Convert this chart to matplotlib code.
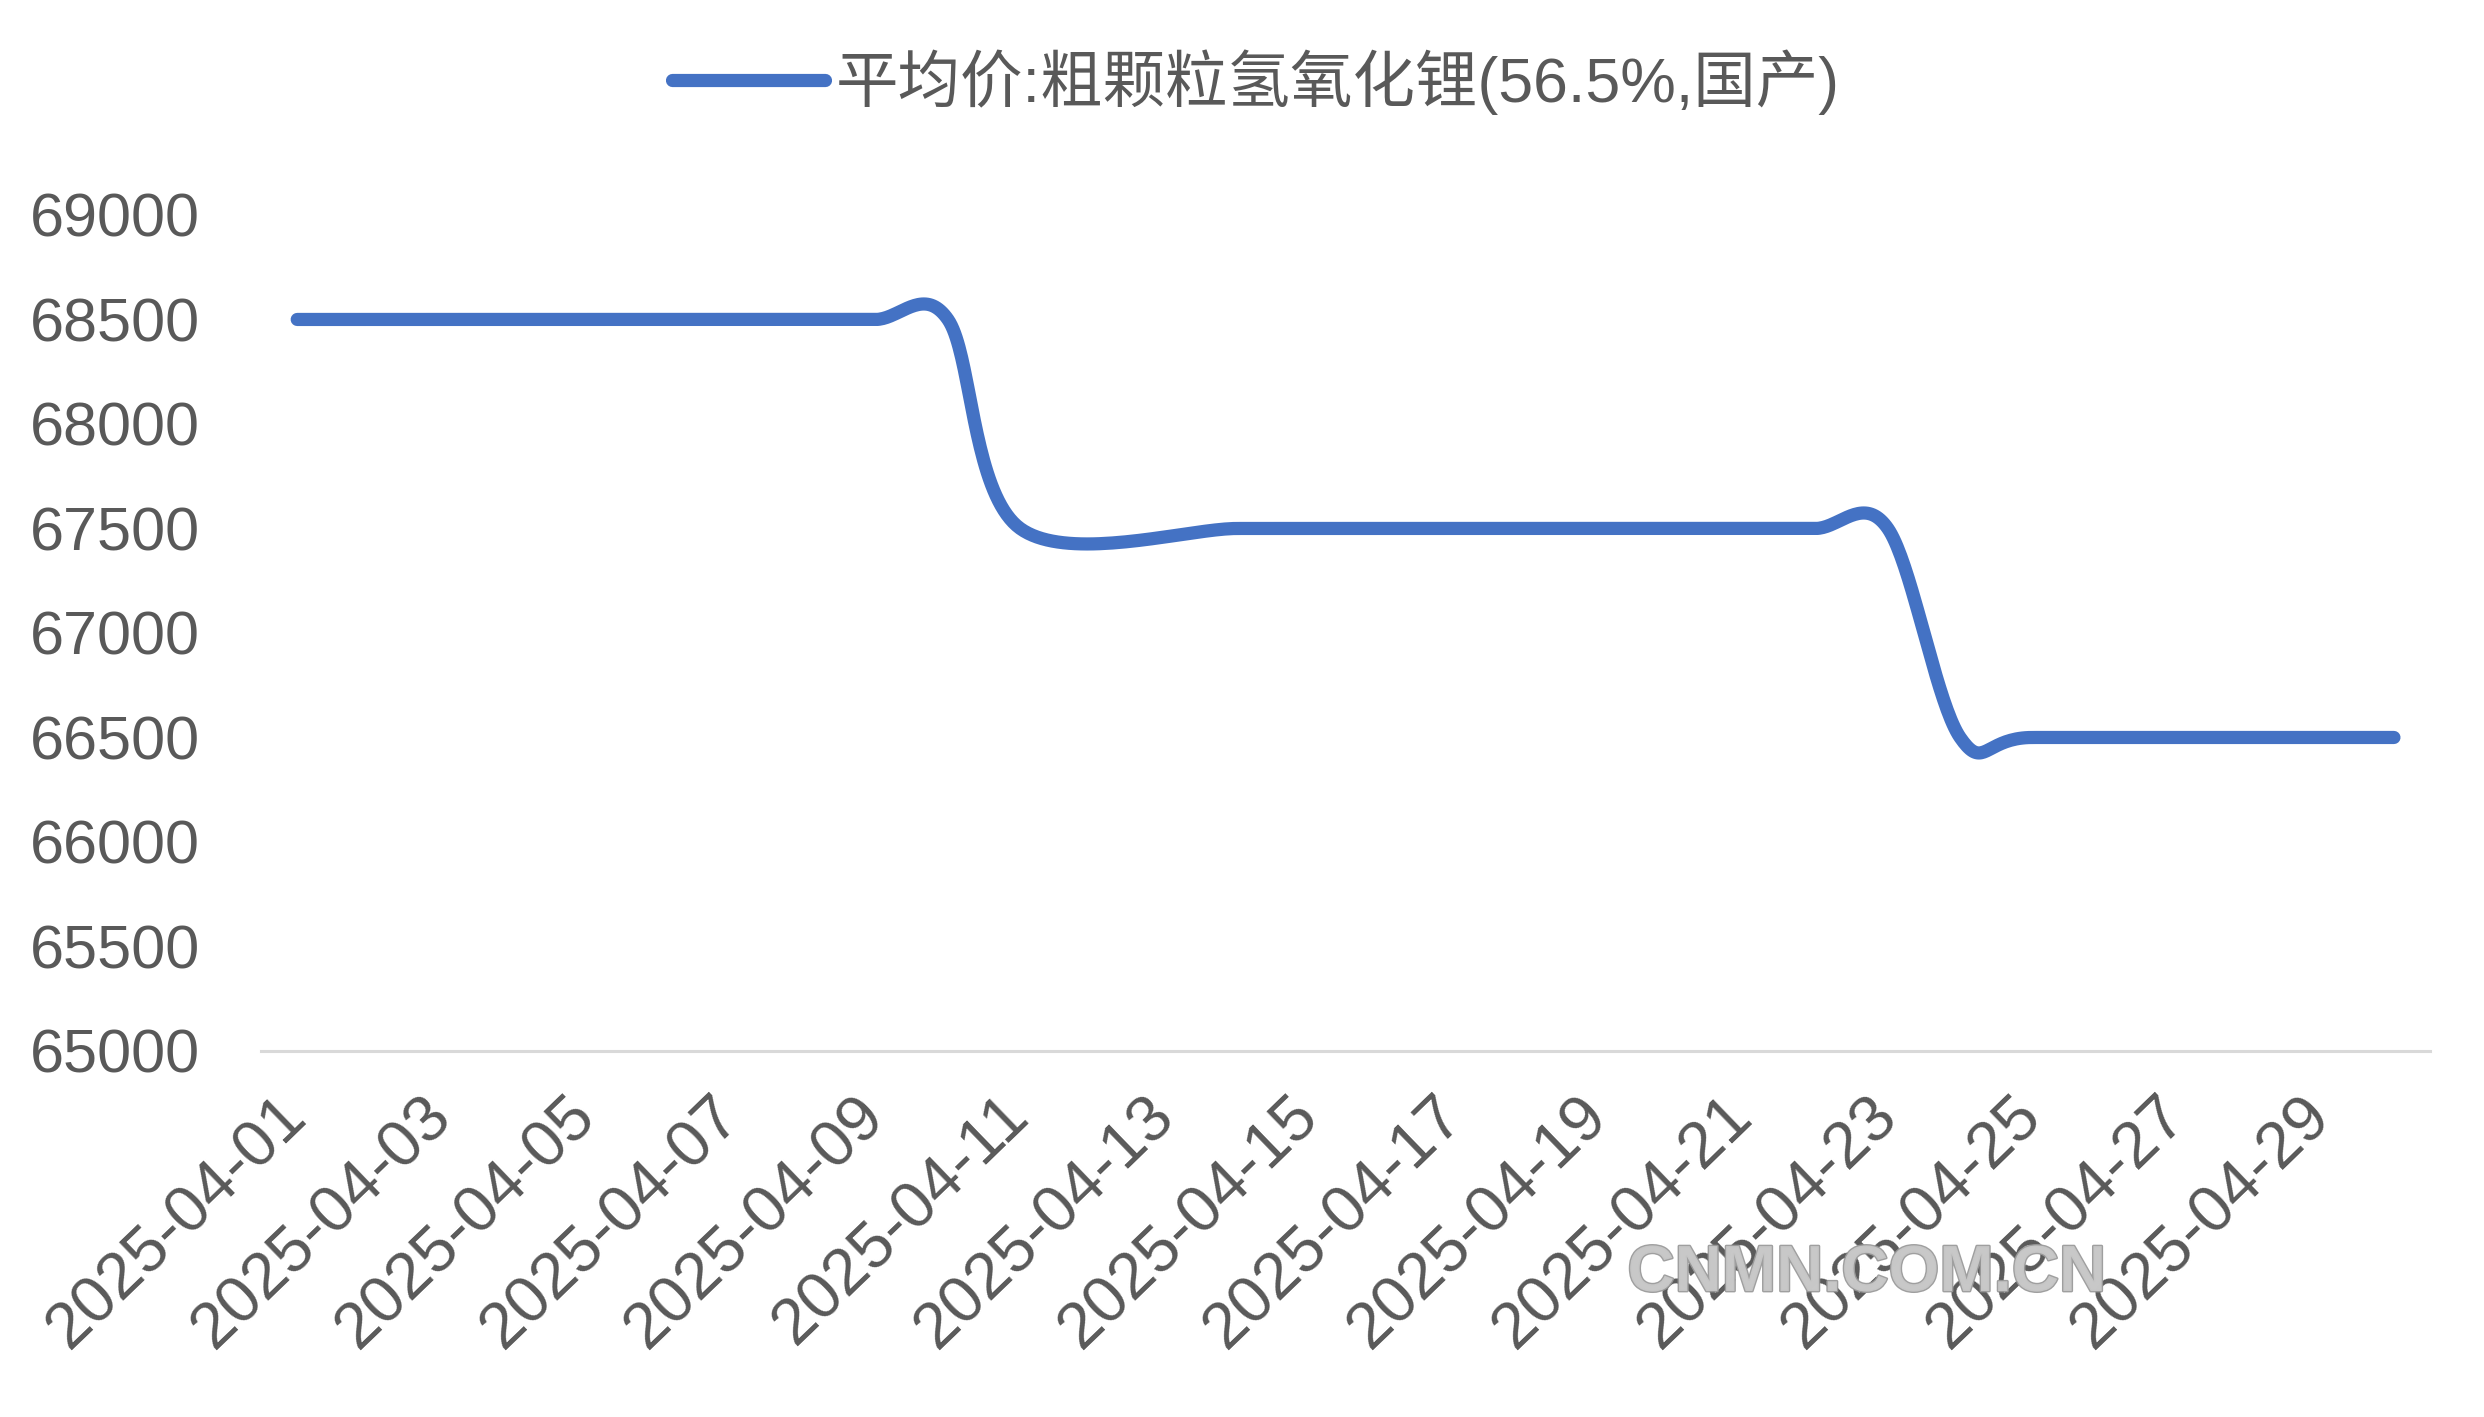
import numpy as np
import matplotlib
matplotlib.use("Agg")
import matplotlib.pyplot as plt
import matplotlib.dates as mdates
import matplotlib.patheffects as pe
from datetime import datetime, timedelta

plt.rcParams['font.family'] = ['Liberation Sans', 'Noto Sans CJK SC', 'DejaVu Sans']

# --- DATA (trading days only; weekends and Qingming 04-04 have no quote) ---
dates = ["2025-04-01", "2025-04-02", "2025-04-03",
         "2025-04-07", "2025-04-08", "2025-04-09", "2025-04-10", "2025-04-11",
         "2025-04-14", "2025-04-15", "2025-04-16", "2025-04-17", "2025-04-18",
         "2025-04-21", "2025-04-22", "2025-04-23", "2025-04-24", "2025-04-25",
         "2025-04-28", "2025-04-29", "2025-04-30"]
prices = [68500, 68500, 68500,
          68500, 68500, 68500, 68500, 67500,
          67500, 67500, 67500, 67500, 67500,
          67500, 67500, 67500, 66500, 66500,
          66500, 66500, 66500]
series_name = "平均价:粗颗粒氢氧化锂(56.5%,国产)"
y_ticks = list(range(65000, 69001, 500))
tick_start, tick_end = "2025-04-01", "2025-04-29"

line_color = "#4472C4"
text_color = "#595959"


def smooth_line(x, y, n=40):
    # Excel-style smoothed line: cubic Bezier between points,
    # control points at 1/6 of the neighbour difference
    x = np.asarray(x, float)
    y = np.asarray(y, float)
    px = np.concatenate([[x[0]], x, [x[-1]]])
    py = np.concatenate([[y[0]], y, [y[-1]]])
    xs, ys = [], []
    t = np.linspace(0, 1, n)
    for i in range(1, len(px) - 2):
        c1x = px[i] + (px[i + 1] - px[i - 1]) / 6
        c1y = py[i] + (py[i + 1] - py[i - 1]) / 6
        c2x = px[i + 1] - (px[i + 2] - px[i]) / 6
        c2y = py[i + 1] - (py[i + 2] - py[i]) / 6
        b0, b1, b2, b3 = (1 - t) ** 3, 3 * (1 - t) ** 2 * t, 3 * (1 - t) * t ** 2, t ** 3
        xs.append(b0 * px[i] + b1 * c1x + b2 * c2x + b3 * px[i + 1])
        ys.append(b0 * py[i] + b1 * c1y + b2 * c2y + b3 * py[i + 1])
    return np.concatenate(xs), np.concatenate(ys)


xnum = mdates.date2num([datetime.strptime(d, "%Y-%m-%d") for d in dates])
sx, sy = smooth_line(xnum, prices)

fig = plt.figure(figsize=(24.84, 14.17), dpi=100)
ax = fig.add_axes([0.1051, 0.2583, 0.9783 - 0.1051, 0.8483 - 0.2583])

ax.plot(sx, sy, color=line_color, lw=9.5, solid_capstyle="round",
        solid_joinstyle="round", label=series_name)

ax.set_xlim(xnum[0] - 0.5, xnum[-1] + 0.5)
ax.set_ylim(y_ticks[0], y_ticks[-1])
ax.set_yticks(y_ticks)
ax.set_yticklabels([str(v) for v in y_ticks])

t0 = datetime.strptime(tick_start, "%Y-%m-%d")
t1 = datetime.strptime(tick_end, "%Y-%m-%d")
xt = []
d = t0
while d <= t1:
    xt.append(d)
    d += timedelta(days=2)
ax.set_xticks(mdates.date2num(xt))
ax.set_xticklabels([d.strftime("%Y-%m-%d") for d in xt], rotation=44,
                   ha="right", va="center", rotation_mode="anchor")

ax.tick_params(axis="y", length=0, labelsize=44, colors=text_color, pad=44)
ax.tick_params(axis="x", length=0, labelsize=47, colors=text_color, pad=40)

for s in ["top", "right", "left"]:
    ax.spines[s].set_visible(False)
ax.spines["bottom"].set_color("#D9D9D9")
ax.spines["bottom"].set_linewidth(2.2)

leg = ax.legend(loc="center", bbox_to_anchor=(0.5056, 0.942),
                bbox_transform=fig.transFigure, frameon=False,
                fontsize=45, handlelength=2.45, handletextpad=0.18,
                borderpad=0)
for txt in leg.get_texts():
    txt.set_color(text_color)

# site watermark
fig.text(0.7515, 1 - 1274 / 1417, "CNMN.COM.CN", fontsize=47, fontweight="bold",
         color="#C8C8C8", ha="center", va="center", alpha=0.95,
         path_effects=[pe.withStroke(linewidth=2, foreground="#9A9A9A")])

fig.savefig("out.png", dpi=100, facecolor="white")
